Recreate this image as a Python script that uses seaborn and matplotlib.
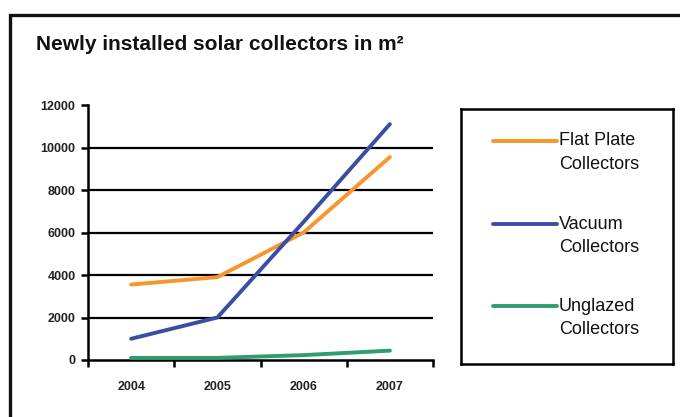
import matplotlib
matplotlib.use("Agg")
import matplotlib.pyplot as plt
import seaborn as sns
import pandas as pd
from matplotlib.patches import Rectangle

years = ["2004", "2005", "2006", "2007"]
flat_plate = [3550, 3900, 6000, 9550]
vacuum = [1000, 2000, 6500, 11100]
unglazed = [100, 100, 230, 440]
series_names = ["Flat Plate\nCollectors", "Vacuum\nCollectors", "Unglazed\nCollectors"]
y_ticks = [0, 2000, 4000, 6000, 8000, 10000, 12000]
title = "Newly installed solar collectors in m\u00b2"

colors = ["#F7962C", "#3B4DA3", "#2E9E6E"]

sns.set_theme(style="white")
plt.rcParams['font.family'] = ['Liberation Sans', 'DejaVu Sans']

df = pd.DataFrame({
    "year": years * 3,
    "value": flat_plate + vacuum + unglazed,
    "series": [series_names[0]] * 4 + [series_names[1]] * 4 + [series_names[2]] * 4,
})

W, H = 680, 417
fig = plt.figure(figsize=(W / 100, H / 100), dpi=100)
fig.patch.set_facecolor("white")

# outer frame
fig.add_artist(Rectangle((9.5 / W, -0.1), 1.2, (H - 15) / H + 0.1, transform=fig.transFigure,
                         fill=False, edgecolor="#111111", linewidth=2.4))

fig.text(36 / W, 1 - 50 / H, title, fontsize=15, fontweight="bold", color="#111111",
         ha="left", va="baseline")

ax = fig.add_axes([88 / W, (H - 360) / H, 345 / W, 255 / H])
sns.lineplot(data=df, x="year", y="value", hue="series", palette=colors, ax=ax,
             linewidth=2.8, legend=False, sort=False, solid_capstyle="round")

ax.set_xlim(-0.5, 3.5)
ax.set_ylim(0, 12000)
ax.set_xlabel("")
ax.set_ylabel("")
for g in y_ticks[1:-1]:
    ax.axhline(g, color="black", linewidth=1.6, zorder=0)

for s in ["top", "right"]:
    ax.spines[s].set_visible(False)
for s in ["left", "bottom"]:
    ax.spines[s].set_color("black")
    ax.spines[s].set_linewidth(1.8)
ax.spines["bottom"].set_zorder(0)

ax.set_yticks(y_ticks)
ax.set_yticklabels([str(v) for v in y_ticks], fontsize=9, fontweight="bold", color="#222222")
ax.tick_params(axis="y", direction="out", length=5, width=1.8, color="black", pad=4, left=True)

ax.set_xticks(range(4))
ax.set_xticklabels(years, fontsize=9, fontweight="bold", color="#222222")
ax.tick_params(axis="x", which="major", length=0, pad=15)
ax.set_xticks([-0.5, 0.5, 1.5, 2.5, 3.5], minor=True)
ax.tick_params(axis="x", which="minor", direction="out", length=5, width=1.8, color="black", bottom=True)
ax.patch.set_alpha(0)

# legend box
lax = fig.add_axes([461 / W, (H - 364) / H, 212 / W, 255 / H])
lax.set_xlim(0, 1)
lax.set_ylim(0, 1)
lax.set_xticks([])
lax.set_yticks([])
for s in lax.spines.values():
    s.set_color("black")
    s.set_linewidth(1.8)
lax.patch.set_alpha(0)
ys = [0.875, 0.549, 0.227]
for name, c, y in zip(series_names, colors, ys):
    lax.plot([0.15, 0.455], [y, y], color=c, linewidth=2.8, solid_capstyle="round")
    l1, l2 = name.split("\n")
    lax.text(0.462, y, l1, fontsize=13, color="#111111", ha="left", va="center")
    lax.text(0.462, y - 0.092, l2, fontsize=13, color="#111111", ha="left", va="center")

fig.savefig("out.png", dpi=100, facecolor="white")
